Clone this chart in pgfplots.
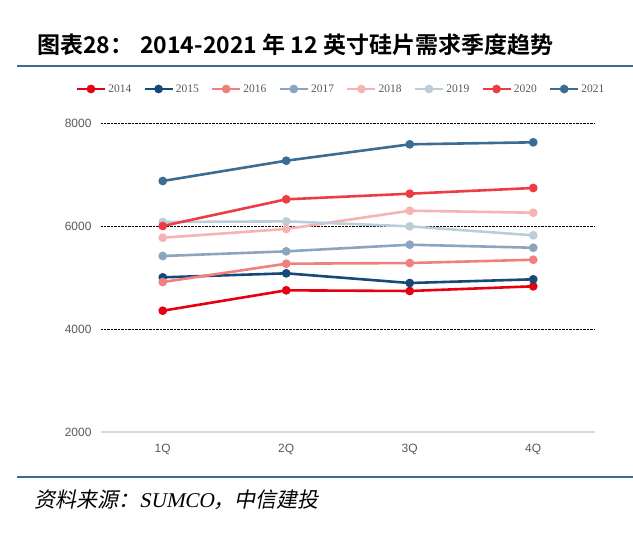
\documentclass[border=0pt]{standalone}
\usepackage{fontspec}
\usepackage{pgfplots}
\pgfplotsset{compat=1.18}
\setmainfont{Liberation Serif}
\newfontfamily\cjk{Noto Sans CJK SC}
\newfontfamily\cjkb{Noto Sans CJK SC Bold}
\newfontfamily\cjkit[FakeSlant=0.2]{Noto Sans CJK SC}
\newfontfamily\serifit[FakeSlant=0.2]{Liberation Serif}
\newfontfamily\arial{Liberation Sans}
\definecolor{c2014}{RGB}{230,0,18}
\definecolor{c2015}{RGB}{22,72,120}
\definecolor{c2016}{RGB}{240,128,128}
\definecolor{c2017}{RGB}{140,165,190}
\definecolor{c2018}{RGB}{247,178,178}
\definecolor{c2019}{RGB}{188,205,218}
\definecolor{c2020}{RGB}{238,59,68}
\definecolor{c2021}{RGB}{60,108,146}
\definecolor{rulec}{RGB}{62,108,140}
\definecolor{labgray}{RGB}{89,89,89}
\begin{document}
\begin{tikzpicture}[x=1pt,y=1pt]
\useasboundingbox (0,0) rectangle (633,-541);
\node[anchor=west,inner sep=0] at (37,-45) {\cjkb\fontsize{23}{25}\selectfont 图表28：\hspace{0.3em}2014-2021 年 12 英寸硅片需求季度趋势};
\draw[rulec,line width=2pt] (17,-66) -- (633,-66);
\draw[rulec,line width=2pt] (17,-477) -- (633,-477);
\node[anchor=west,inner sep=0] at (34,-500) {\cjkit\fontsize{21}{23}\selectfont 资料来源：{\serifit SUMCO}，中信建投};
\begin{axis}[
  at={(101pt,-432pt)}, anchor=south west,
  width=494pt, height=309pt, scale only axis,
  xmin=-0.5, xmax=3.5, ymin=2000, ymax=8000,
  xtick={0,1,2,3}, xticklabels={1Q,2Q,3Q,4Q},
  ytick={4000,6000,8000},
  extra y ticks={2000},
  extra y tick style={grid style={draw=black!15,line width=1.5pt,solid}},
  ymajorgrids,
  grid style={densely dotted,black,line width=0.6pt},
  axis line style={draw=none},
  tick style={draw=none},
  /pgf/number format/assume math mode=true,
  /pgf/number format/set thousands separator={},
  ticklabel style={font=\arial\fontsize{12}{14}\selectfont, text=labgray},
  yticklabel style={xshift=-6pt},
  xticklabel style={yshift=-9pt},
  every axis plot/.append style={line width=2.6pt, mark=*, mark size=3pt},
  legend columns=8,
  legend style={draw=none, fill=none, at={(0.486,1.110)}, anchor=center,
    font=\fontsize{11.5}{13}\selectfont, text=labgray,
    /tikz/every even column/.append style={column sep=10pt}},
  legend image code/.code={\draw[mark repeat=2,mark phase=2] plot coordinates {(0pt,0pt)(14pt,0pt)(28pt,0pt)};},
]
\addplot[c2014] coordinates {(0,4355) (1,4751) (2,4738) (3,4829)};
\addplot[c2015] coordinates {(0,5003) (1,5081) (2,4893) (3,4965)};
\addplot[c2016] coordinates {(0,4912) (1,5268) (2,5281) (3,5345)};
\addplot[c2017] coordinates {(0,5417) (1,5508) (2,5637) (3,5578)};
\addplot[c2018] coordinates {(0,5773) (1,5942) (2,6297) (3,6258)};
\addplot[c2019] coordinates {(0,6077) (1,6090) (2,5993) (3,5819)};
\addplot[c2020] coordinates {(0,6000) (1,6518) (2,6627) (3,6738)};
\addplot[c2021] coordinates {(0,6874) (1,7268) (2,7586) (3,7625)};
\legend{2014,2015,2016,2017,2018,2019,2020,2021}
\end{axis}
\end{tikzpicture}
\end{document}
